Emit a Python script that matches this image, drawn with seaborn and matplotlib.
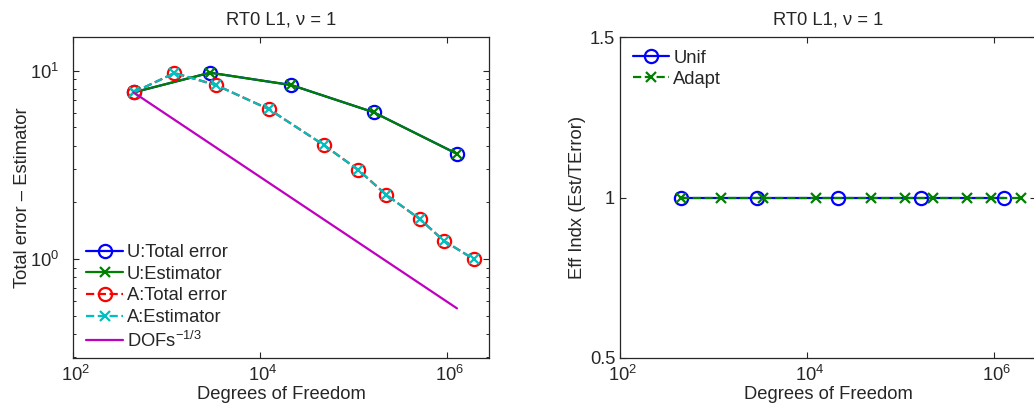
import numpy as np
import seaborn as sns
import matplotlib
matplotlib.use("Agg")
import matplotlib.pyplot as plt
import matplotlib.transforms as mtransforms
from matplotlib.ticker import LogLocator, NullLocator, FixedLocator

# values
dofs_unif = [444, 2930, 21700, 164000, 1280000]
err_unif = [7.67, 9.76, 8.39, 6.02, 3.62]
est_unif = [7.67, 9.76, 8.39, 6.02, 3.62]
eff_unif = [1.0, 1.0, 1.0, 1.0, 1.0]

dofs_adapt = [444, 1216, 3390, 12530, 48200, 113000, 225000, 513000, 927000, 1930000]
err_adapt = [7.67, 9.72, 8.39, 6.24, 4.03, 2.97, 2.19, 1.63, 1.25, 1.00]
est_adapt = [7.67, 9.72, 8.39, 6.24, 4.03, 2.97, 2.19, 1.63, 1.25, 1.00]
eff_adapt = [1.0, 1.0, 1.0, 1.0, 1.0, 1.0, 1.0, 1.0, 1.0, 1.0]

ref_dofs = [444, 1280000]
ref_vals = [7.67, 0.547]

title = "RT0 L1, \u03bd = 1"
fs = 13.2

sns.set_style("ticks")
plt.rcParams["font.family"] = ["Liberation Sans", "DejaVu Sans"]
plt.rcParams["mathtext.default"] = "regular"
plt.rcParams["font.size"] = fs
plt.rcParams["xtick.direction"] = "in"
plt.rcParams["ytick.direction"] = "in"
plt.rcParams["xtick.top"] = True
plt.rcParams["ytick.right"] = True
plt.rcParams["axes.linewidth"] = 0.9

fig = plt.figure(figsize=(10.34, 4.12), dpi=100)
ax1 = fig.add_axes([0.0706, 0.1311, 0.4023, 0.779])
ax2 = fig.add_axes([0.5996, 0.1311, 0.4023, 0.779])

lw = 1.6
ms = 9.5
mew = 1.6

# left panel: errors and estimators
sns.lineplot(x=dofs_unif, y=err_unif, ax=ax1, color="blue", linestyle="-", lw=lw,
             marker="o", ms=ms, mfc="none", mec="blue", mew=mew, label="U:Total error")
sns.lineplot(x=dofs_unif, y=est_unif, ax=ax1, color="#008000", linestyle="-", lw=lw,
             marker="x", ms=ms * 0.75, mec="#008000", mew=mew, label="U:Estimator")
sns.lineplot(x=dofs_adapt, y=err_adapt, ax=ax1, color="red", linestyle="--", lw=lw,
             marker="o", ms=ms, mfc="none", mec="red", mew=mew, label="A:Total error")
sns.lineplot(x=dofs_adapt, y=est_adapt, ax=ax1, color="#00bfbf", linestyle="--", lw=lw,
             marker="x", ms=ms * 0.75, mec="#00bfbf", mew=mew, label="A:Estimator")
sns.lineplot(x=ref_dofs, y=ref_vals, ax=ax1, color="#bf00bf", linestyle="-", lw=lw,
             label="DOFs$^{-1/3}$")

ax1.set_xscale("log")
ax1.set_yscale("log")
ax1.set_xlim(1e2, 10 ** 6.45)
ax1.set_ylim(0.298, 15.1)
ax1.set_title(title, fontsize=fs, pad=9)
ax1.set_xlabel("Degrees of Freedom", labelpad=1)
ax1.set_ylabel("Total error \u2013 Estimator", labelpad=-0.5)
ax1.xaxis.set_major_locator(FixedLocator([1e2, 1e4, 1e6]))
ax1.xaxis.set_minor_locator(NullLocator())
ax1.yaxis.set_major_locator(LogLocator(base=10))
ax1.yaxis.set_minor_locator(LogLocator(base=10, subs=np.arange(2, 10)))
ax1.tick_params(which="major", length=4, width=0.8)
ax1.tick_params(which="minor", length=2.5, width=0.7)
ax1.tick_params(axis="y", which="major", pad=10)
ax1.tick_params(axis="x", which="major", pad=5)
ax1.legend(loc="lower left", bbox_to_anchor=(0.01, -0.006), frameon=False,
           handlelength=2.0, handletextpad=0.2, labelspacing=0.25,
           borderaxespad=0.1, fontsize=fs)

# right panel: efficiency index
sns.lineplot(x=dofs_unif, y=eff_unif, ax=ax2, color="blue", linestyle="-", lw=lw,
             marker="o", ms=ms, mfc="none", mec="blue", mew=mew, label="Unif")
sns.lineplot(x=dofs_adapt, y=eff_adapt, ax=ax2, color="#008000", linestyle="--", lw=lw,
             marker="x", ms=ms * 0.75, mec="#008000", mew=mew, label="Adapt")

ax2.set_xscale("log")
ax2.set_xlim(1e2, 10 ** 6.45)
ax2.set_ylim(0.5, 1.5)
ax2.set_title(title, fontsize=fs, pad=9)
ax2.set_xlabel("Degrees of Freedom", labelpad=1)
ax2.set_ylabel("Eff Indx (Est/TError)", labelpad=3)
ax2.xaxis.set_major_locator(FixedLocator([1e2, 1e4, 1e6]))
ax2.xaxis.set_minor_locator(NullLocator())
ax2.set_yticks([0.5, 1, 1.5])
ax2.set_yticklabels(["0.5", "1", "1.5"])
ax2.tick_params(which="major", length=4, width=0.8)
ax2.tick_params(axis="x", which="major", pad=5)
ax2.legend(loc="upper left", frameon=False, handlelength=2.0, handletextpad=0.2,
           labelspacing=0.2, borderaxespad=0.3, fontsize=fs)

# MATLAB centres the base of 10^n on the tick, so nudge the labels right a bit
shift = mtransforms.ScaledTranslation(3 / 100, 0, fig.dpi_scale_trans)
for ax in (ax1, ax2):
    for lab in ax.get_xticklabels():
        lab.set_transform(lab.get_transform() + shift)

fig.savefig("out.png", dpi=100)
